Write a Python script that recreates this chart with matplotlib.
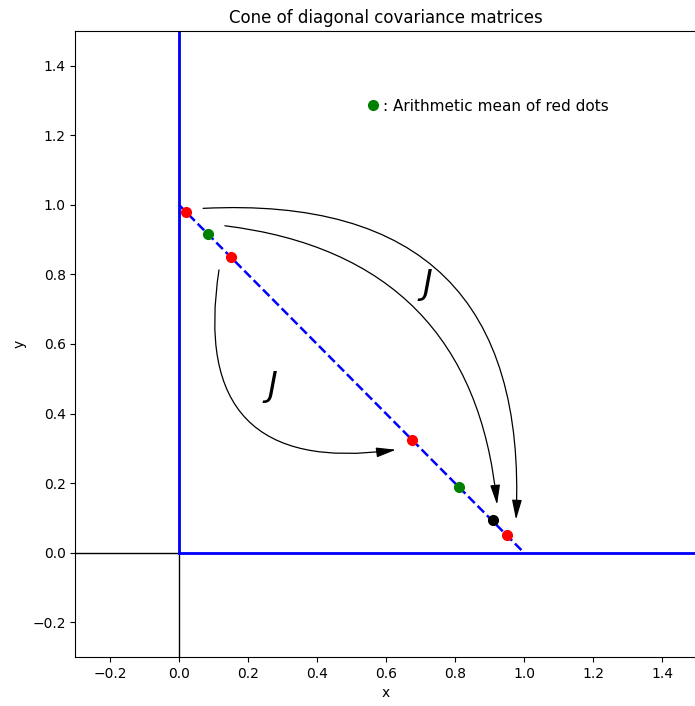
import numpy as np
import matplotlib
matplotlib.use("Agg")
import matplotlib.pyplot as plt

# points on the simplex x + y = 1
red_x = [0.02, 0.15, 0.675, 0.95]
red_y = [0.98, 0.85, 0.325, 0.05]
mean_x = [0.085, 0.8125]
mean_y = [0.915, 0.1875]
black_x = [0.91]
black_y = [0.095]

# arrows: (start, end, curvature)
arrow_start = [(0.07, 0.99), (0.133, 0.94), (0.116, 0.813)]
arrow_end = [(0.977, 0.095), (0.922, 0.138), (0.629, 0.296)]
arrow_rad = [-0.55, -0.4, 0.67]

j_pos = [(0.715, 0.77), (0.265, 0.475)]

fig = plt.figure(figsize=(6.95, 7.06), dpi=100)
ax = fig.add_axes([0.1086, 0.0694, 0.8935, 0.8867])

ax.axhline(0, color="black", lw=1)
ax.axvline(0, color="black", lw=1)
ax.plot([0, 0], [0, 1.5], color="blue", lw=2)
ax.plot([0, 1.5], [0, 0], color="blue", lw=2)
ax.plot([0, 1], [1, 0], color="blue", lw=1.8, ls="--")

ax.plot(red_x, red_y, "o", color="red", ms=7)
ax.plot(mean_x, mean_y, "o", color="green", ms=7, label=": Arithmetic mean of red dots")
ax.plot(black_x, black_y, "o", color="black", ms=7)

for s, e, r in zip(arrow_start, arrow_end, arrow_rad):
    ax.annotate("", xy=e, xytext=s,
                arrowprops=dict(arrowstyle="-|>,head_length=0.6,head_width=0.15",
                                color="black", lw=0.9,
                                mutation_scale=20, shrinkA=0, shrinkB=0,
                                connectionstyle="arc3,rad=%s" % r))

for p in j_pos:
    ax.text(p[0], p[1], "$J$", fontsize=24, ha="center", va="center")

ax.legend(loc="center left", bbox_to_anchor=(0.449, 0.880), frameon=False,
          handlelength=0.6, handletextpad=0.4, fontsize=11)

ax.set_xlim(-0.3, 1.5)
ax.set_ylim(-0.3, 1.5)
ax.set_xticks(np.arange(-0.2, 1.5, 0.2))
ax.set_yticks(np.arange(-0.2, 1.5, 0.2))
ax.set_xlabel("x")
ax.set_ylabel("y")
ax.set_title("Cone of diagonal covariance matrices", fontsize=12)

plt.savefig("out.png")
